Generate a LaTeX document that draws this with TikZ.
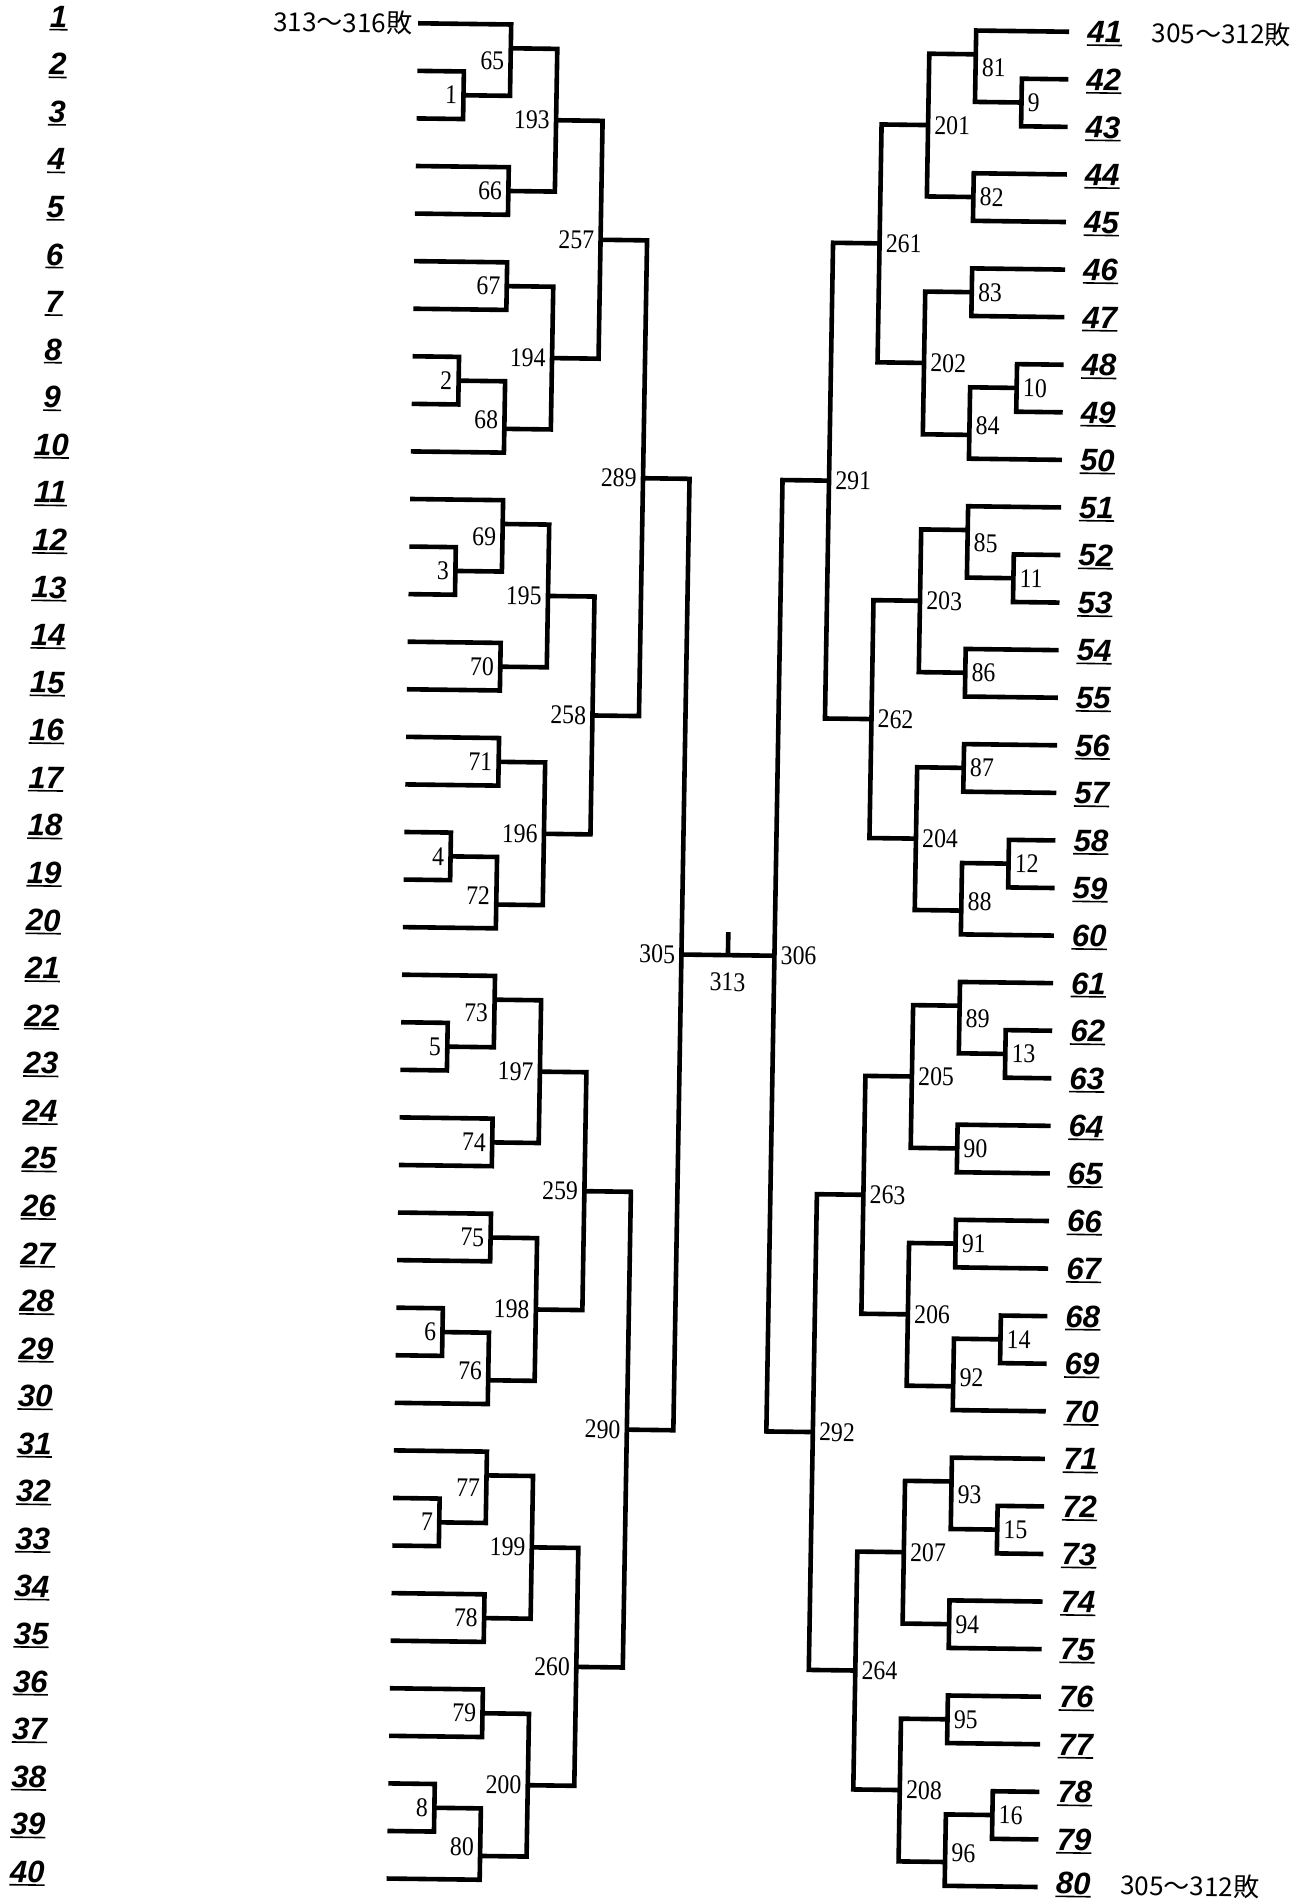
\documentclass[tikz,border=0pt]{standalone}
\usepackage{fontspec}
\setmainfont{Liberation Serif}
\newfontfamily\labfont[FakeStretch=0.88]{Liberation Serif}
\newfontfamily\rowfont{Liberation Sans}
\newfontfamily\cjkfont{Noto Sans CJK JP}
\newcommand\rowy[1]{26.5+47.57*((#1)-1)}
\newcommand\match[7]{%
  \coordinate (#1) at (#2,{\rowy{#3}});
  \draw[br] (#4) -| (#1) |- (#5);
  \node[#7] (t#1) at (#1) {#6};
}
\begin{document}
\begin{tikzpicture}[x=0.5pt,y=-0.5pt,
  br/.style={line width=2.3pt},
  lab/.style={font=\labfont\fontsize{13.5}{15}\selectfont, inner sep=0pt},
  lft/.style={lab, anchor=east, xshift=-3pt},
  rgt/.style={lab, anchor=west, xshift=3pt},
  dn/.style={yshift=-6.5pt},
  up/.style={yshift=4.5pt},
  rowlab/.style={font=\rowfont\bfseries\itshape\fontsize{15.5}{17}\selectfont, inner sep=0pt},
  ul/.style={line width=0.8pt},
  jp/.style={font=\cjkfont\fontsize{13}{15}\selectfont, inner sep=0pt}]
\fill[white] (0,0) rectangle (1300,1901);
\useasboundingbox (0,0) rectangle (1300,1901);
\begin{scope}[transform canvas={cm={1,-0.013,0.017,1,(8.075pt,4.225pt)}}]
% leaves
\foreach \i in {1,...,40}{
  \coordinate (a\i) at (402.5,{\rowy{\i}});
  \pgfmathtruncatemacro\j{\i+40}
  \coordinate (a\j) at (1053.5,{\rowy{\i}});
}
% row labels
\foreach \i in {1,...,40}{
  \node[rowlab] (n\i) at (43,{\rowy{\i}-2}) {\i};
  \draw[ul] ([yshift=-1.2pt]n\i.base west) -- ([yshift=-1.2pt]n\i.base east);
  \pgfmathtruncatemacro\j{\i+40}
  \pgfmathsetmacro\dy{\i==40 ? 4 : 0}
  \node[rowlab] (n\j) at (1089,{\rowy{\i}-\dy}) {\j};
  \draw[ul] ([yshift=-1.2pt]n\j.base west) -- ([yshift=-1.2pt]n\j.base east);
}
% left side
\foreach \k in {0,...,3}{
  \pgfmathtruncatemacro\b{10*\k}
  \pgfmathtruncatemacro\rA{\b+1}
  \pgfmathtruncatemacro\rB{\b+2}
  \pgfmathtruncatemacro\rC{\b+3}
  \pgfmathtruncatemacro\rD{\b+4}
  \pgfmathtruncatemacro\rE{\b+5}
  \pgfmathtruncatemacro\rF{\b+6}
  \pgfmathtruncatemacro\rG{\b+7}
  \pgfmathtruncatemacro\rH{\b+8}
  \pgfmathtruncatemacro\rI{\b+9}
  \pgfmathtruncatemacro\rJ{\b+10}
  \pgfmathtruncatemacro\pA{1+2*\k}
  \pgfmathtruncatemacro\pB{2+2*\k}
  \pgfmathtruncatemacro\sA{65+4*\k}
  \pgfmathtruncatemacro\sB{66+4*\k}
  \pgfmathtruncatemacro\sC{67+4*\k}
  \pgfmathtruncatemacro\sD{68+4*\k}
  \pgfmathtruncatemacro\tA{193+2*\k}
  \pgfmathtruncatemacro\tB{194+2*\k}
  \pgfmathtruncatemacro\fA{257+\k}
  \match{m\pA}{449}{\b+2.5}{a\rB}{a\rC}{\pA}{lft}
  \match{m\sA}{495.5}{\b+1.5}{a\rA}{m\pA}{\sA}{lft,dn}
  \match{m\sB}{495.5}{\b+4.5}{a\rD}{a\rE}{\sB}{lft}
  \match{m\tA}{542}{\b+3}{m\sA}{m\sB}{\tA}{lft}
  \match{m\sC}{495.5}{\b+6.5}{a\rF}{a\rG}{\sC}{lft}
  \match{m\pB}{449}{\b+8.5}{a\rH}{a\rI}{\pB}{lft}
  \match{m\sD}{495.5}{\b+9.5}{m\pB}{a\rJ}{\sD}{lft,up}
  \match{m\tB}{542}{\b+8}{m\sC}{m\sD}{\tB}{lft}
  \match{m\fA}{588.5}{\b+5.5}{m\tA}{m\tB}{\fA}{lft}
}
\match{m289}{635}{10.5}{m257}{m258}{289}{lft}
\match{m290}{635}{30.5}{m259}{m260}{290}{lft}
\match{m305}{681.5}{20.5}{m289}{m290}{305}{lft}
% right side
\foreach \k in {0,...,3}{
  \pgfmathtruncatemacro\b{10*\k}
  \pgfmathtruncatemacro\rA{40+\b+1}
  \pgfmathtruncatemacro\rB{40+\b+2}
  \pgfmathtruncatemacro\rC{40+\b+3}
  \pgfmathtruncatemacro\rD{40+\b+4}
  \pgfmathtruncatemacro\rE{40+\b+5}
  \pgfmathtruncatemacro\rF{40+\b+6}
  \pgfmathtruncatemacro\rG{40+\b+7}
  \pgfmathtruncatemacro\rH{40+\b+8}
  \pgfmathtruncatemacro\rI{40+\b+9}
  \pgfmathtruncatemacro\rJ{40+\b+10}
  \pgfmathtruncatemacro\pA{9+2*\k}
  \pgfmathtruncatemacro\pB{10+2*\k}
  \pgfmathtruncatemacro\sA{81+4*\k}
  \pgfmathtruncatemacro\sB{82+4*\k}
  \pgfmathtruncatemacro\sC{83+4*\k}
  \pgfmathtruncatemacro\sD{84+4*\k}
  \pgfmathtruncatemacro\tA{201+2*\k}
  \pgfmathtruncatemacro\tB{202+2*\k}
  \pgfmathtruncatemacro\fA{261+\k}
  \match{m\pA}{1007}{\b+2.5}{a\rB}{a\rC}{\pA}{rgt}
  \match{m\sA}{960.5}{\b+1.5}{a\rA}{m\pA}{\sA}{rgt,dn}
  \match{m\sB}{960.5}{\b+4.5}{a\rD}{a\rE}{\sB}{rgt}
  \match{m\tA}{914}{\b+3}{m\sA}{m\sB}{\tA}{rgt}
  \match{m\sC}{960.5}{\b+6.5}{a\rF}{a\rG}{\sC}{rgt}
  \match{m\pB}{1007}{\b+8.5}{a\rH}{a\rI}{\pB}{rgt}
  \match{m\sD}{960.5}{\b+9.5}{m\pB}{a\rJ}{\sD}{rgt,up}
  \match{m\tB}{914}{\b+8}{m\sC}{m\sD}{\tB}{rgt}
  \match{m\fA}{867.5}{\b+5.5}{m\tA}{m\tB}{\fA}{rgt}
}
\match{m291}{821}{10.5}{m261}{m262}{291}{rgt}
\match{m292}{821}{30.5}{m263}{m264}{292}{rgt}
\match{m306}{774.5}{20.5}{m291}{m292}{306}{rgt}
% final
\draw[br] (m305) -- (m306);
\coordinate (c313) at (728,{\rowy{20.5}});
\coordinate (tick) at (728,{\rowy{20.5}-23});
\draw[br] (c313) -- (tick);
\node[lab] (t313) at (728,{\rowy{20.5}+27}) {313};
% notes
\node[jp, anchor=east] (w1) at (397,{\rowy{1}}) {313～316敗};
\node[jp, anchor=west] (w41) at (1136,{\rowy{1}}) {305～312敗};
\node[jp, anchor=west] (w80) at (1136,{\rowy{40}-3}) {305～312敗};
\end{scope}
\end{tikzpicture}
\end{document}
